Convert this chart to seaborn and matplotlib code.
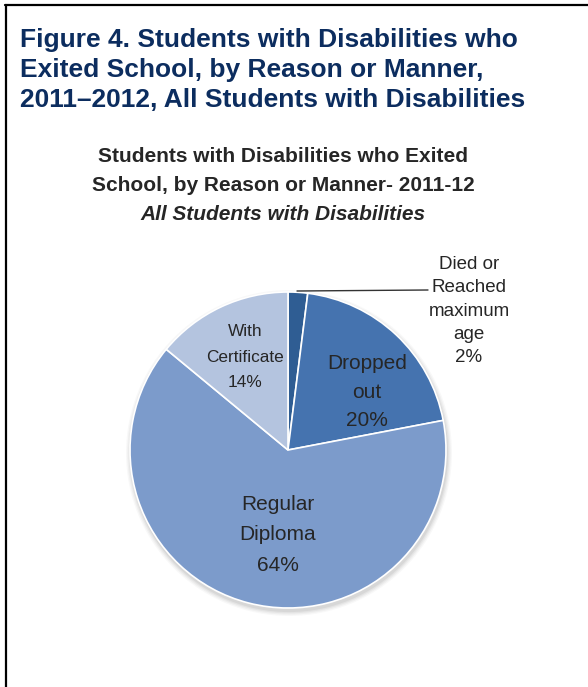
import matplotlib
matplotlib.use("Agg")
import matplotlib.pyplot as plt
import seaborn as sns
from matplotlib.patches import Circle
from matplotlib.lines import Line2D

# ---- data ----
categories = ["Died or\nReached\nmaximum\nage", "Dropped\nout", "Regular\nDiploma", "With\nCertificate"]
shares = [2, 20, 64, 14]
slice_colors = ["#2F5D93", "#4573AF", "#7C9BCB", "#B4C4DF"]

fig_title = "Figure 4. Students with Disabilities who\nExited School, by Reason or Manner,\n2011\u20132012, All Students with Disabilities"
chart_title = "Students with Disabilities who Exited\nSchool, by Reason or Manner- 2011-12"
chart_subtitle = "All Students with Disabilities"

sns.set_theme(style="white")
FAM = ["Liberation Sans", "DejaVu Sans"]
plt.rcParams["font.family"] = FAM

W, H = 588, 687
fig = plt.figure(figsize=(W / 100, H / 100), dpi=100)
ax = fig.add_axes([0, 0, 1, 1])

def Y(y):
    return H - y

cx, cy, R = 288, 450, 158

# soft shadow
for i, a in enumerate([0.05, 0.07, 0.09, 0.12]):
    ax.add_patch(Circle((cx + 1, Y(cy) - 3), R + 5 - i * 1.3, color="#808080", alpha=a, lw=0, zorder=1))

wedges, _ = ax.pie(shares, colors=slice_colors, startangle=90, counterclock=False,
                   center=(cx, Y(cy)), radius=R,
                   wedgeprops=dict(edgecolor="white", linewidth=1.2))
for w in wedges:
    w.set_zorder(2)

ax.set_xlim(0, W)
ax.set_ylim(0, H)
ax.set_aspect("equal", adjustable="box")
ax.axis("off")

# border (top and left)
ax.add_line(Line2D([5, W], [Y(5), Y(5)], color="black", lw=1.6))
ax.add_line(Line2D([5.5, 5.5], [Y(5), 0], color="black", lw=1.6))

# figure title
ax.text(20, Y(70), fig_title, ha="left", va="center", fontsize=19, fontweight="bold",
        color="#0C2D5F", linespacing=1.32, family=FAM)

# chart title
ax.text(283, Y(171), chart_title, ha="center", va="center", fontsize=15, fontweight="bold",
        color="#262626", linespacing=1.62, family=FAM)
ax.text(283, Y(214), chart_subtitle, ha="center", va="center", fontsize=15, style="italic",
        fontweight="bold", color="#262626", family=FAM)

# slice labels
lab_color = "#262626"
ax.text(469, Y(311), categories[0] + "\n" + f"{shares[0]}%", ha="center", va="center",
        fontsize=13.5, color=lab_color, linespacing=1.47, family=FAM)
ax.text(367, Y(392), categories[1] + "\n" + f"{shares[1]}%", ha="center", va="center",
        fontsize=15, color=lab_color, linespacing=1.62, family=FAM)
ax.text(278, Y(535), categories[2] + "\n" + f"{shares[2]}%", ha="center", va="center",
        fontsize=15, color=lab_color, linespacing=1.78, family=FAM)
ax.text(245, Y(357), categories[3] + "\n" + f"{shares[3]}%", ha="center", va="center",
        fontsize=12.4, color=lab_color, linespacing=1.9, family=FAM)

# leader line for small slice
ax.add_line(Line2D([297, 428], [Y(291), Y(290)], color="#333333", lw=1.0, zorder=3))

fig.savefig("out.png", dpi=100)
